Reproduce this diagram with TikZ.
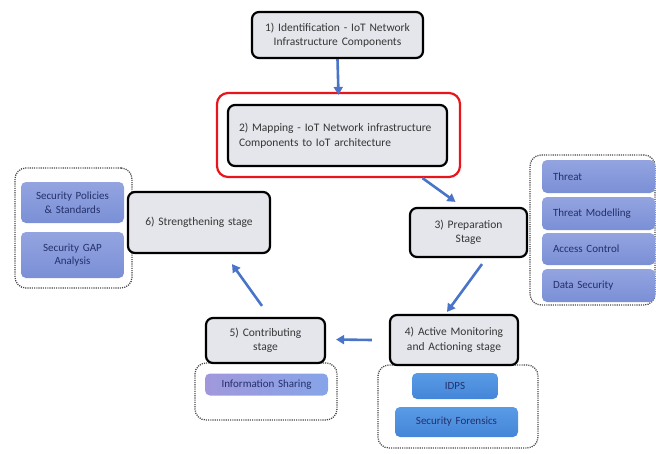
\documentclass[tikz,border=0pt]{standalone}
\usepackage{fontspec}
\setmainfont{Carlito}
\usetikzlibrary{arrows.meta}
\definecolor{stagefill}{HTML}{E4E6EB}
\definecolor{stagetext}{HTML}{363636}
\definecolor{subtop}{HTML}{93A4E0}
\definecolor{subbot}{HTML}{7B8FD6}
\definecolor{subtext}{HTML}{24306A}
\definecolor{bluetop}{HTML}{5A9BE6}
\definecolor{bluebot}{HTML}{4485D8}
\definecolor{infoleft}{HTML}{A198DC}
\definecolor{inforight}{HTML}{86A4E8}
\definecolor{arrowblue}{HTML}{4A74C9}
\definecolor{frameline}{HTML}{474747}
\definecolor{hilite}{HTML}{E8151B}
\tikzset{
  stagebox/.style={draw=black, line width=2.2pt, rounded corners=7pt, fill=stagefill,
    text=stagetext, font=\fontsize{11.5}{14.5}\selectfont, align=center, inner sep=2pt},
  groupframe/.style={draw=frameline, line width=1.3pt, dash pattern=on 1.1pt off 1.1pt,
    rounded corners=11pt, inner sep=0pt},
  subbox/.style={draw=none, rounded corners=5pt, top color=subtop, bottom color=subbot,
    text=subtext, font=\fontsize{11}{13.5}\selectfont, align=center, inner sep=2pt},
  listbox/.style={subbox, align=left, inner xsep=11pt},
  toolbox/.style={subbox, top color=bluetop, bottom color=bluebot},
  flow/.style={draw=arrowblue, line width=2.6pt, -{Triangle[length=8pt,width=9pt]}},
}
\begin{document}
\begin{tikzpicture}[x=1pt,y=-1pt]
\useasboundingbox (0,0) rectangle (656,453);

% dotted group frames
\node[groupframe, minimum width=117pt, minimum height=120pt] (gleft)  at (73.5,228) {};
\node[groupframe, minimum width=125pt, minimum height=150pt] (gright) at (592.5,230) {};
\node[groupframe, minimum width=142pt, minimum height=57pt]  (gfive)  at (266,391.5) {};
\node[groupframe, minimum width=160pt, minimum height=83pt]  (gfour)  at (458,406.5) {};

% highlight around stage 2
\node[draw=hilite, line width=2.2pt, rounded corners=11pt, minimum width=243pt,
      minimum height=84pt] (hl) at (338.5,135) {};

% stages
\node[stagebox, minimum width=171pt, minimum height=46pt, text width=160pt] (s1) at (337.5,35)
  {1) Identification - IoT Network\\Infrastructure Components};
\node[stagebox, minimum width=219pt, minimum height=61pt, text width=197pt, align=left] (s2) at (337.5,135.5)
  {2) Mapping - IoT Network infrastructure\\Components to IoT architecture};
\node[stagebox, minimum width=117pt, minimum height=49pt, text width=105pt] (s3) at (468.5,232.5)
  {3) Preparation\\Stage};
\node[stagebox, minimum width=128pt, minimum height=50pt, text width=118pt] (s4) at (454,340)
  {4) Active Monitoring\\and Actioning stage};
\node[stagebox, minimum width=119pt, minimum height=45pt, text width=108pt] (s5) at (265.5,340.5)
  {5) Contributing\\stage};
\node[stagebox, minimum width=142pt, minimum height=61pt, text width=130pt] (s6) at (199,222.5)
  {6) Strengthening stage};

% left group
\node[subbox, minimum width=103pt, minimum height=41pt, text width=95pt] (pol) at (72.5,202.5)
  {Security Policies\\\& Standards};
\node[subbox, minimum width=103pt, minimum height=46pt, text width=95pt] (gap) at (72.5,255)
  {Security GAP\\Analysis};

% right group
\node[listbox, minimum width=113pt, minimum height=33pt, text width=91pt] (thr) at (598.5,176.5) {Threat};
\node[listbox, minimum width=113pt, minimum height=33pt, text width=91pt] (tmod) at (598.5,213.5) {Threat Modelling};
\node[listbox, minimum width=113pt, minimum height=32pt, text width=91pt] (acc) at (598.5,249) {Access Control};
\node[listbox, minimum width=113pt, minimum height=33pt, text width=91pt] (dsec) at (598.5,285.5) {Data Security};

% bottom groups
\node[subbox, left color=infoleft, right color=inforight, minimum width=123pt,
      minimum height=22pt, text width=115pt] (info) at (266.5,384.5) {Information Sharing};
\node[toolbox, minimum width=86pt, minimum height=26pt, text width=78pt] (idps) at (455,386) {IDPS};
\node[toolbox, minimum width=123pt, minimum height=30pt, text width=115pt] (fore) at (456.5,422) {Security Forensics};

% cycle arrows
\draw[flow] (s1.south) -- ([yshift=-3pt]hl.north);
\draw[flow] ([xshift=84pt]hl.south) -- ([xshift=-13pt,yshift=5pt]s3.north);
\draw[flow] ([xshift=13.5pt,yshift=-6pt]s3.south) -- ([xshift=-7pt,yshift=2pt]s4.north);
\draw[flow] ([xshift=-17pt]s4.west) -- ([xshift=10pt,yshift=1pt]s5.east);
\draw[flow] ([xshift=-3.5pt,yshift=11pt]s5.north) -- ([xshift=33pt,yshift=-10pt]s6.south);
\end{tikzpicture}
\end{document}
